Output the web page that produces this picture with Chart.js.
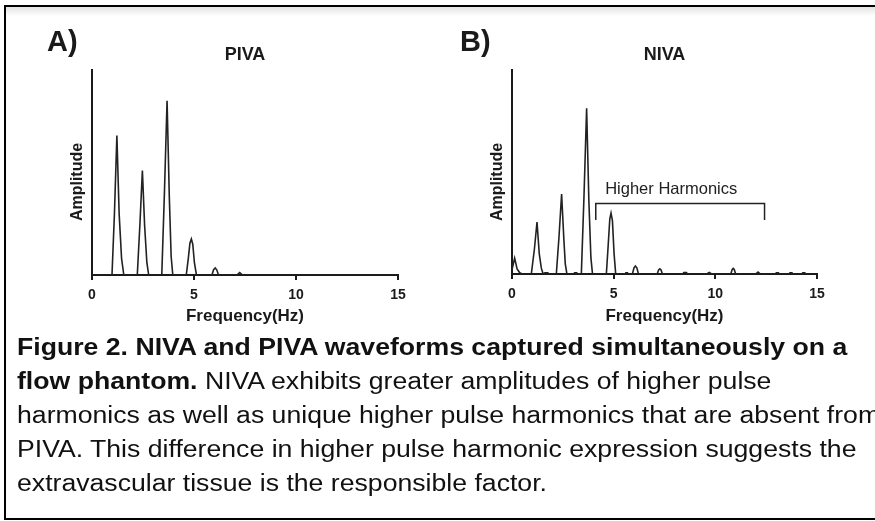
<!DOCTYPE html>
<html>
<head>
<meta charset="utf-8">
<script src="https://cdn.jsdelivr.net/npm/chart.js@4"></script>
<style>
  body { margin: 0; width: 875px; height: 521px; overflow: hidden; background: #fff; position: relative; }
  #frame { position: absolute; left: 4px; top: 5px; width: 930px; height: 515px; box-sizing: border-box; border: 2px solid #000; }
  #shade { position: absolute; left: 6px; top: 7px; width: 900px; height: 9px; background: linear-gradient(#e3e3e3, #ffffff); }
  #pivaChart { position: absolute; left: 0; top: 0; }
  #nivaChart { position: absolute; left: 430px; top: 0; }
  #caption {
    position: absolute; left: 17px; top: 330px;
    font: 23px/34px "Liberation Sans", Arial, sans-serif; color: #111;
    white-space: nowrap; transform: scaleX(1.158); transform-origin: 0 0;
  }
</style>
</head>
<body>
<div id="frame"></div>
<div id="shade"></div>
<canvas id="pivaChart" width="430" height="335"></canvas>
<canvas id="nivaChart" width="445" height="335"></canvas>
<div id="caption"><b>Figure 2. NIVA and PIVA waveforms captured simultaneously on a<br>flow phantom.</b> NIVA exhibits greater amplitudes of higher pulse<br>harmonics as well as unique higher pulse harmonics that are absent from<br>PIVA. This difference in higher pulse harmonic expression suggests the<br>extravascular tissue is the responsible factor.</div>

<script>
const FONT = '"Liberation Sans", Arial, sans-serif';
const INK = '#1a1a1a';

// x axis ticks (Hz)
const freqTicks = [0, 5, 10, 15];

// PIVA spectrum: frequency (Hz) and amplitude (% of axis height)
const pivaFreq = [0, 0.98, 1.10, 1.22, 1.33, 1.45, 1.56,
  2.22, 2.35, 2.47, 2.58, 2.69, 2.78,
  3.42, 3.55, 3.68, 3.79, 3.88, 3.96,
  4.62, 4.72, 4.80, 4.87, 4.94, 5.02, 5.12,
  5.88, 5.96, 6.04, 6.12, 6.20,
  7.10, 7.24, 7.38, 15];
const pivaAmp = [0, 0, 30, 68, 30, 8, 0,
  0, 25, 51, 24, 6, 0,
  0, 40, 85, 38, 9, 0,
  0, 8, 15.5, 17.6, 15, 6, 0,
  0, 2.6, 3.4, 2.4, 0,
  0, 1.2, 0, 0];

// NIVA spectrum
const nivaFreq = [0, 0.13, 0.25, 0.38, 0.50,
  0.95, 1.10, 1.23, 1.34, 1.44, 1.53, 1.62, 1.68, 1.76, 1.82,
  2.18, 2.31, 2.44, 2.55, 2.62, 2.70, 3.02, 3.08, 3.18, 3.24,
  3.41, 3.54, 3.67, 3.78, 3.88, 3.96,
  4.64, 4.73, 4.81, 4.87, 4.94, 5.02, 5.10, 5.56, 5.60, 5.68, 5.72,
  5.92, 6.00, 6.07, 6.14, 6.22,
  7.14, 7.21, 7.27, 7.33, 7.40, 8.40, 8.45, 8.58, 8.63,
  9.58, 9.70, 9.82,
  10.76, 10.83, 10.88, 10.93, 11.00,
  11.98, 12.10, 12.22, 12.95, 13.00, 13.10, 13.15, 13.62, 13.67, 13.77, 13.82,
  14.25, 14.30, 14.40, 14.45, 15];
const nivaAmp = [2, 7.8, 2.5, 0.6, 0,
  0, 12, 25.5, 10, 3, 0, 0.6, 0.6, 0.6, 0,
  0, 18, 39.2, 17, 5, 0, 0, 0.6, 0.6, 0,
  0, 38, 81.2, 36, 8, 0,
  0, 14, 27, 29.8, 26, 10, 0, 0, 0.6, 0.6, 0,
  0, 3, 3.9, 3, 0,
  0, 2, 2.5, 2, 0, 0, 0.7, 0.7, 0,
  0, 0.8, 0,
  0, 2.2, 2.7, 2.2, 0,
  0, 1.0, 0, 0, 0.6, 0.6, 0, 0, 0.6, 0.6, 0,
  0, 0.6, 0.6, 0, 0];

// "Higher Harmonics" bracket (Hz / amplitude)
const bracketFreq = [4.12, 4.12, 12.42, 12.42];
const bracketAmp = [26.5, 34.6, 34.6, 26.5];
const bracketLabel = 'Higher Harmonics';
const bracketLabelAt = [7.83, 41.5];

const toPoints = (xs, ys) => xs.map((x, i) => ({x: x, y: ys[i]}));

// titles, panel letters and the rotated y caption
const panelText = {
  id: 'panelText',
  afterDraw(chart, args, opts) {
    const {ctx, chartArea} = chart;
    ctx.save();
    ctx.fillStyle = INK;
    ctx.textBaseline = 'middle';

    ctx.textAlign = 'center';
    ctx.font = 'bold 18px ' + FONT;
    ctx.fillText(opts.title, (chartArea.left + chartArea.right) / 2, 55);

    ctx.textAlign = 'left';
    ctx.font = 'bold 29px ' + FONT;
    ctx.fillText(opts.letter, opts.letterX, 43);

    if (opts.note) {
      const xs = chart.scales.x, ys = chart.scales.y;
      ctx.textAlign = 'center';
      ctx.font = '16.5px ' + FONT;
      ctx.fillStyle = '#222';
      ctx.fillText(opts.note, xs.getPixelForValue(opts.noteAt[0]), ys.getPixelForValue(opts.noteAt[1]));
    }

    ctx.fillStyle = INK;
    ctx.translate(chartArea.left - opts.ampGap, 182);
    ctx.rotate(-Math.PI / 2);
    ctx.textAlign = 'center';
    ctx.font = 'bold 16px ' + FONT;
    ctx.fillText('Amplitude', 0, 0);
    ctx.restore();
  }
};

function makeOptions(cfg) {
  return {
    responsive: false,
    animation: false,
    layout: { padding: { left: 0, top: 70, right: cfg.right, bottom: 0 } },
    plugins: {
      legend: { display: false },
      tooltip: { enabled: false },
      panelText: cfg.text
    },
    scales: {
      x: {
        type: 'linear', min: 0, max: 15,
        afterBuildTicks: s => { s.ticks = freqTicks.map(v => ({value: v})); },
        ticks: { color: INK, font: { family: FONT, size: 14, weight: 'bold' }, padding: 7, maxRotation: 0 },
        grid: { drawOnChartArea: false, tickLength: 5, color: INK, lineWidth: 2 },
        border: { color: INK, width: 2 },
        title: { display: true, text: 'Frequency(Hz)', color: INK,
                 font: { family: FONT, size: 17, weight: 'bold' }, padding: { top: 0, bottom: 8 } },
        afterFit: s => { s.height = cfg.xHeight; }
      },
      y: {
        min: 0, max: 100,
        ticks: { display: false },
        grid: { display: false },
        border: { color: INK, width: 2 },
        afterFit: s => { s.width = cfg.yWidth; }
      }
    }
  };
}

const lineStyle = { borderColor: '#222', borderWidth: 1.6, pointRadius: 0, tension: 0, fill: false };

const pivaChart = new Chart(document.getElementById('pivaChart'), {
  type: 'line',
  data: {
    datasets: [Object.assign({ label: 'PIVA', data: toPoints(pivaFreq, pivaAmp) }, lineStyle)]
  },
  options: makeOptions({ right: 32, yWidth: 92, xHeight: 60,
    text: { title: 'PIVA', letter: 'A)', letterX: 47, ampGap: 14 } }),
  plugins: [panelText]
});

const nivaChart = new Chart(document.getElementById('nivaChart'), {
  type: 'line',
  data: {
    datasets: [
      Object.assign({ label: 'NIVA', data: toPoints(nivaFreq, nivaAmp) }, lineStyle),
      { label: 'bracket', data: toPoints(bracketFreq, bracketAmp), borderColor: '#222',
        borderWidth: 1.5, pointRadius: 0, tension: 0, fill: false }
    ]
  },
  options: makeOptions({ right: 58, yWidth: 82, xHeight: 61,
    text: { title: 'NIVA', letter: 'B)', letterX: 30, ampGap: 14,
            note: bracketLabel, noteAt: bracketLabelAt } }),
  plugins: [panelText]
});
</script>
</body>
</html>
